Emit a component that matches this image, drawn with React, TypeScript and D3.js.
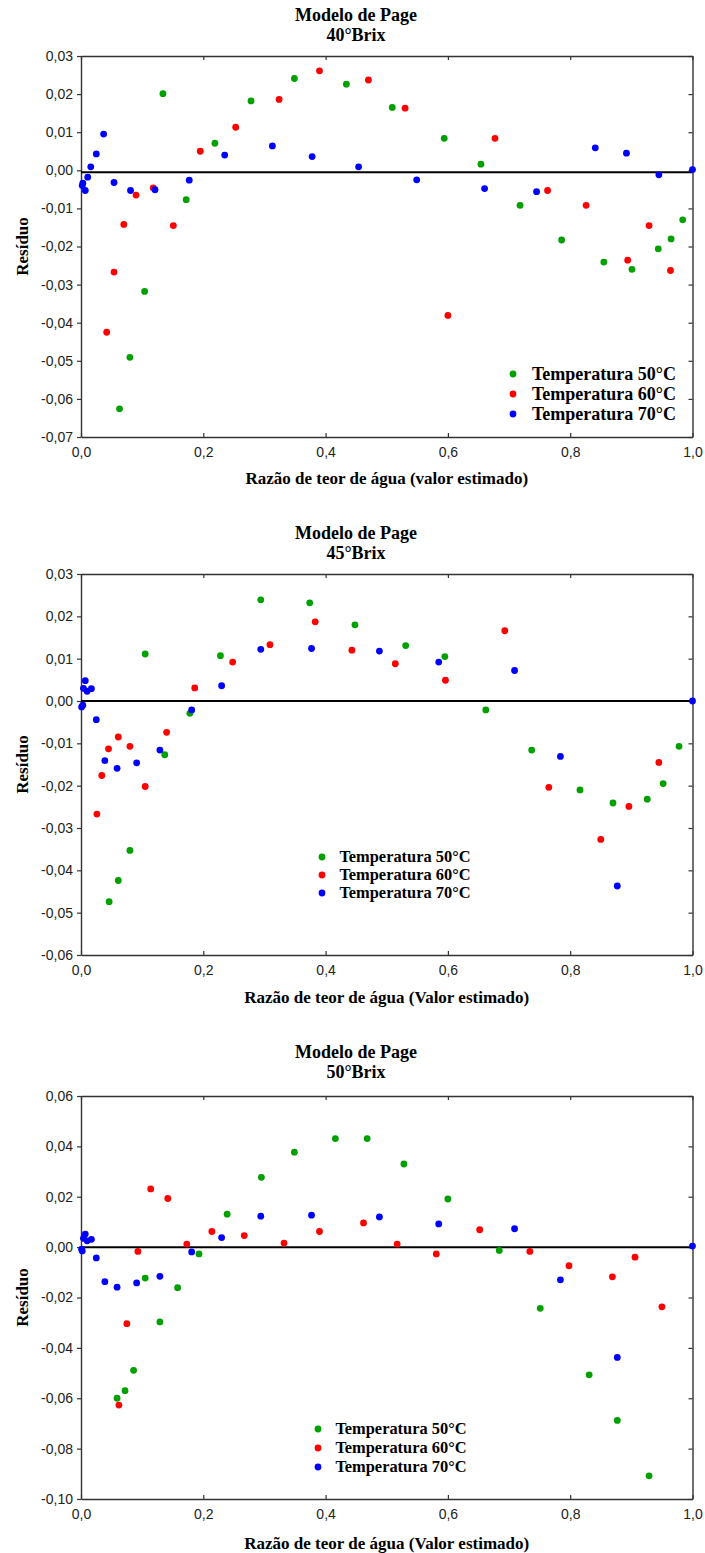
import React, { useRef, useEffect } from 'react'
import * as d3 from 'd3'

type Pt = [number, number]

const xTicks = [0, 0.2, 0.4, 0.6, 0.8, 1.0]
const legendLabels = ['Temperatura 50°C', 'Temperatura 60°C', 'Temperatura 70°C']
const colors = ['#00a000', '#ff0000', '#0000ff']

// 40°Brix
const yTicks40 = [0.03, 0.02, 0.01, 0, -0.01, -0.02, -0.03, -0.04, -0.05, -0.06, -0.07]
const b40_t50: Pt[] = [
    [0.063, -0.0626], [0.08, -0.0491], [0.104, -0.0318], [0.134, 0.0201], [0.172, -0.0077],
    [0.219, 0.0071], [0.278, 0.0182], [0.349, 0.0241], [0.434, 0.0226], [0.509, 0.0165],
    [0.594, 0.0084], [0.654, 0.0016], [0.718, -0.0092], [0.786, -0.0183], [0.855, -0.0241],
    [0.901, -0.026], [0.944, -0.0206], [0.965, -0.018], [0.984, -0.013],
]
const b40_t60: Pt[] = [
    [0.042, -0.0425], [0.054, -0.0267], [0.07, -0.0142], [0.09, -0.0065], [0.118, -0.0046],
    [0.151, -0.0145], [0.195, 0.005], [0.253, 0.0113], [0.324, 0.0186], [0.39, 0.0261],
    [0.47, 0.0237], [0.53, 0.0163], [0.6, -0.0381], [0.677, 0.0084], [0.763, -0.0053],
    [0.826, -0.0092], [0.894, -0.0236], [0.929, -0.0145], [0.964, -0.0263],
]
const b40_t70: Pt[] = [
    [0.002, -0.004], [0.003, -0.0034], [0.007, -0.0053], [0.011, -0.0018], [0.016, 0.0009],
    [0.025, 0.0043], [0.037, 0.0095], [0.054, -0.0032], [0.081, -0.0053], [0.121, -0.0051],
    [0.177, -0.0026], [0.235, 0.004], [0.313, 0.0064], [0.378, 0.0036], [0.454, 0.0009],
    [0.549, -0.0025], [0.66, -0.0048], [0.745, -0.0056], [0.841, 0.0059], [0.892, 0.0045],
    [0.945, -0.0012], [1.0, 0.0002],
]

// 45°Brix
const yTicks45 = [0.03, 0.02, 0.01, 0, -0.01, -0.02, -0.03, -0.04, -0.05, -0.06]
const b45_t50: Pt[] = [
    [0.046, -0.0474], [0.061, -0.0424], [0.08, -0.0353], [0.105, 0.0111], [0.137, -0.0127],
    [0.178, -0.0029], [0.228, 0.0107], [0.294, 0.0239], [0.374, 0.0232], [0.448, 0.018],
    [0.531, 0.0131], [0.595, 0.0105], [0.662, -0.0021], [0.737, -0.0116], [0.816, -0.021],
    [0.87, -0.0241], [0.926, -0.0232], [0.952, -0.0195], [0.978, -0.0107],
]
const b45_t60: Pt[] = [
    [0.026, -0.0267], [0.034, -0.0176], [0.045, -0.0113], [0.061, -0.0085], [0.08, -0.0107],
    [0.105, -0.0202], [0.14, -0.0074], [0.186, 0.0031], [0.248, 0.0092], [0.309, 0.0133],
    [0.383, 0.0187], [0.443, 0.012], [0.514, 0.0088], [0.596, 0.0049], [0.693, 0.0166],
    [0.765, -0.0204], [0.85, -0.0327], [0.896, -0.0249], [0.945, -0.0145],
]
const b45_t70: Pt[] = [
    [0.001, -0.0014], [0.003, -0.001], [0.004, 0.003], [0.007, 0.0048], [0.01, 0.0023],
    [0.017, 0.0029], [0.025, -0.0044], [0.039, -0.0141], [0.059, -0.0159], [0.091, -0.0146],
    [0.129, -0.0116], [0.181, -0.0021], [0.23, 0.0036], [0.294, 0.0122], [0.377, 0.0124],
    [0.488, 0.0118], [0.585, 0.0092], [0.709, 0.0072], [0.784, -0.0131], [0.877, -0.0437],
    [1.0, 0.0],
]

// 50°Brix
const yTicks50 = [0.06, 0.04, 0.02, 0, -0.02, -0.04, -0.06, -0.08, -0.1]
const b50_t50: Pt[] = [
    [0.059, -0.06], [0.072, -0.057], [0.086, -0.0489], [0.105, -0.0123], [0.129, -0.0297],
    [0.158, -0.0161], [0.193, -0.0027], [0.239, 0.0131], [0.295, 0.0277], [0.349, 0.0377],
    [0.416, 0.0431], [0.468, 0.0431], [0.528, 0.033], [0.6, 0.0191], [0.684, -0.0013],
    [0.751, -0.0243], [0.831, -0.0507], [0.877, -0.0688], [0.929, -0.0908],
]
const b50_t60: Pt[] = [
    [0.062, -0.0627], [0.075, -0.0304], [0.093, -0.0017], [0.114, 0.0231], [0.142, 0.0193],
    [0.173, 0.0012], [0.214, 0.0062], [0.267, 0.0046], [0.332, 0.0016], [0.39, 0.0062],
    [0.462, 0.0096], [0.517, 0.0012], [0.581, -0.0027], [0.652, 0.0069], [0.734, -0.0017],
    [0.798, -0.0074], [0.869, -0.0118], [0.906, -0.004], [0.95, -0.0237],
]
const b50_t70: Pt[] = [
    [0.001, -0.0008], [0.002, -0.0015], [0.004, 0.0035], [0.007, 0.0052], [0.01, 0.0025],
    [0.017, 0.0031], [0.025, -0.0043], [0.039, -0.0137], [0.059, -0.0159], [0.091, -0.0142],
    [0.129, -0.0116], [0.181, -0.0019], [0.23, 0.0038], [0.294, 0.0123], [0.377, 0.0127],
    [0.488, 0.012], [0.585, 0.0092], [0.709, 0.0073], [0.784, -0.013], [0.877, -0.0438],
    [1.0, 0.0004],
]

const panels = [
    {
        title: '40°Brix', xLabel: 'Razão de teor de água (valor estimado)',
        yDomain: [-0.07, 0.03], yTicks: yTicks40, series: [b40_t50, b40_t60, b40_t70], zero: -0.0005,
        top: 56, bottom: 437, titleY: 21, xLabelY: 484,
        legend: { x: 513, y: 374, step: 20, size: 18 },
    },
    {
        title: '45°Brix', xLabel: 'Razão de teor de água (Valor estimado)',
        yDomain: [-0.06, 0.03], yTicks: yTicks45, series: [b45_t50, b45_t60, b45_t70], zero: 0,
        top: 574, bottom: 955, titleY: 539, xLabelY: 1003,
        legend: { x: 322, y: 857, step: 18, size: 16.4 },
    },
    {
        title: '50°Brix', xLabel: 'Razão de teor de água (Valor estimado)',
        yDomain: [-0.1, 0.06], yTicks: yTicks50, series: [b50_t50, b50_t60, b50_t70], zero: 0,
        top: 1096, bottom: 1499, titleY: 1058, xLabelY: 1549,
        legend: { x: 318, y: 1429, step: 19, size: 16.4 },
    },
]

const serif = '"Liberation Serif", "Times New Roman", serif'
const sans = '"Liberation Sans", Arial, sans-serif'
const fmtY = (d) => (+d).toFixed(2).replace('.', ',')
const fmtX = (d) => (+d).toFixed(1).replace('.', ',')

const App = () => {
    const svgRef = useRef()

    useEffect(() => {
        const svg = d3.select(svgRef.current)
        svg.selectAll('*').remove()
        const left = 81
        const right = 692.5

        panels.forEach((p) => {
            const g = svg.append('g')
            const xScale = d3.scaleLinear().domain([0, 1]).range([left, right])
            const yScale = d3.scaleLinear().domain(p.yDomain).range([p.bottom, p.top])

            // titles
            g.append('text')
                .attr('x', 356)
                .attr('y', p.titleY)
                .attr('text-anchor', 'middle')
                .style('font-family', serif)
                .style('font-weight', 'bold')
                .style('font-size', '18px')
                .text('Modelo de Page')
            g.append('text')
                .attr('x', 356)
                .attr('y', p.titleY + 20)
                .attr('text-anchor', 'middle')
                .style('font-family', serif)
                .style('font-weight', 'bold')
                .style('font-size', '18px')
                .text(p.title)

            // axes
            const styleAxis = (sel) => {
                sel.select('.domain').attr('stroke', '#333').attr('stroke-width', 1.4)
                sel.selectAll('.tick line').attr('stroke', '#333').attr('stroke-width', 1.2)
                sel.selectAll('text')
                    .style('font-family', sans)
                    .style('font-size', '14px')
                    .attr('fill', '#222')
            }
            g.append('g')
                .attr('transform', `translate(${left},0)`)
                .call(d3.axisLeft(yScale).tickValues(p.yTicks).tickFormat(fmtY).tickSizeInner(4).tickSizeOuter(0).tickPadding(4))
                .call(styleAxis)
            g.append('g')
                .attr('transform', `translate(${right},0)`)
                .call(d3.axisRight(yScale).tickValues(p.yTicks).tickFormat(() => '').tickSizeInner(-4).tickSizeOuter(0))
                .call(styleAxis)
            g.append('g')
                .attr('transform', `translate(0,${p.top})`)
                .call(d3.axisTop(xScale).tickValues(xTicks).tickFormat(() => '').tickSizeInner(-4).tickSizeOuter(0))
                .call(styleAxis)
            g.append('g')
                .attr('transform', `translate(0,${p.bottom})`)
                .call(d3.axisBottom(xScale).tickValues(xTicks).tickFormat(fmtX).tickSizeInner(-4).tickSizeOuter(0).tickPadding(10))
                .call(styleAxis)

            // zero line
            g.append('line')
                .attr('x1', left)
                .attr('x2', right)
                .attr('y1', yScale(p.zero))
                .attr('y2', yScale(p.zero))
                .attr('stroke', '#000')
                .attr('stroke-width', 2)

            // axis labels
            g.append('text')
                .attr('x', (left + right) / 2)
                .attr('y', p.xLabelY)
                .attr('text-anchor', 'middle')
                .style('font-family', serif)
                .style('font-weight', 'bold')
                .style('font-size', '17px')
                .text(p.xLabel)
            g.append('text')
                .attr('transform', `translate(28,${(p.top + p.bottom) / 2}) rotate(-90)`)
                .attr('text-anchor', 'middle')
                .style('font-family', serif)
                .style('font-weight', 'bold')
                .style('font-size', '17px')
                .text('Resíduo')

            // points
            p.series.forEach((s, i) => {
                g.append('g')
                    .selectAll('circle')
                    .data(s)
                    .enter()
                    .append('circle')
                    .attr('cx', (d) => xScale(d[0]))
                    .attr('cy', (d) => yScale(d[1]))
                    .attr('r', 3.4)
                    .attr('fill', colors[i])
            })

            // legend
            legendLabels.forEach((lab, i) => {
                const ly = p.legend.y + i * p.legend.step
                g.append('circle')
                    .attr('cx', p.legend.x)
                    .attr('cy', ly)
                    .attr('r', 3.4)
                    .attr('fill', colors[i])
                g.append('text')
                    .attr('x', p.legend.x + p.legend.size + 1)
                    .attr('y', ly + p.legend.size * 0.33)
                    .style('font-family', serif)
                    .style('font-weight', 'bold')
                    .style('font-size', `${p.legend.size}px`)
                    .text(lab)
            })
        })
    }, [])

    return (
        <svg
            ref={svgRef}
            width={705}
            height={1553}
            style={{ position: 'absolute', left: 0, top: 0, background: '#fff' }}
        />
    )
}

export default App
